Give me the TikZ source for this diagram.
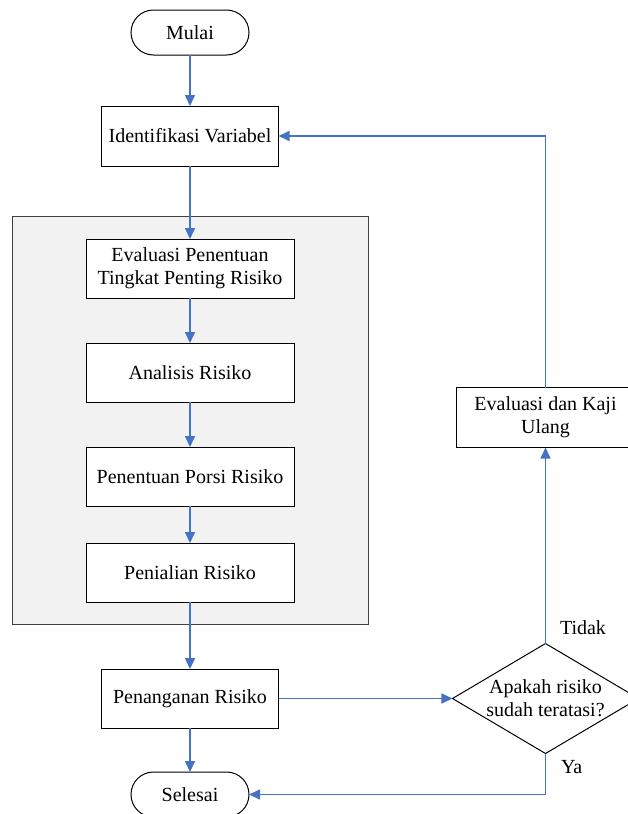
\documentclass[tikz,border=0pt]{standalone}
\usepackage{fontspec}
\setmainfont{Liberation Serif}
\usepackage{tikz}
\usetikzlibrary{positioning, arrows.meta, shapes.geometric, fit, backgrounds}
\definecolor{ink}{HTML}{000000}
\definecolor{flowblue}{HTML}{4472C4}
\definecolor{panel}{HTML}{F2F2F2}
\definecolor{panelline}{HTML}{404040}
\tikzset{
  box/.style={rectangle, draw=ink, line width=1pt, fill=white, text=ink,
    font=\fontsize{20}{23}\selectfont, align=center, inner sep=2pt, outer sep=0pt,
    minimum width=177pt, minimum height=60pt},
  boxw/.style={box, minimum width=208pt, minimum height=59pt},
  term/.style={box, rounded corners=22.5pt, minimum width=118pt, minimum height=45pt},
  decision/.style={diamond, draw=ink, line width=1pt, fill=white, text=ink,
    font=\fontsize{20}{23}\selectfont, align=center, inner sep=0pt, outer sep=0pt,
    aspect=1.7, minimum width=186pt, minimum height=110pt},
  flow/.style={-{Triangle[length=11pt, width=10pt]}, line width=1.6pt, color=flowblue},
  lbl/.style={font=\fontsize{20}{23}\selectfont, text=ink},
}

\begin{document}
\begin{tikzpicture}[x=1pt, y=-1pt, node distance=45pt]
  \useasboundingbox (0,0) rectangle (627,814);
  \node[term] (start) at (190,32.5) {Mulai};
  \node[box, below=51pt of start] (ident) {Identifikasi Variabel};
  \node[boxw, below=73pt of ident] (p1) {Evaluasi Penentuan\\Tingkat Penting Risiko};
  \node[boxw, below=of p1] (p2) {Analisis Risiko};
  \node[boxw, below=of p2] (p3) {Penentuan Porsi Risiko};
  \node[boxw, below=37pt of p3] (p4) {Penialian Risiko};
  \node[box, below=67pt of p4, minimum height=59pt] (treat) {Penanganan Risiko};
  \node[term, below=44pt of treat] (finish) {Selesai};
  \node[decision, right=174pt of treat] (check) {Apakah risiko\\sudah teratasi?};
  \node[box, above=196pt of check, minimum width=178pt] (review) {Evaluasi dan Kaji\\Ulang};
  \begin{scope}[on background layer]
    \node[fit=(p1)(p4), draw=panelline, line width=1pt, fill=panel,
      inner xsep=74pt, inner ysep=22.5pt] (stage) {};
  \end{scope}
  \draw[flow] (start)--(ident); \draw[flow] (ident)--(p1); \draw[flow] (p1)--(p2);
  \draw[flow] (p2)--(p3); \draw[flow] (p3)--(p4); \draw[flow] (p4)--(treat);
  \draw[flow] (treat)--(finish); \draw[flow] (treat)--(check);
  \draw[flow] (check.south) |- (finish.east);
  \draw[flow] (check.north) -- (review.south);
  \draw[flow] (review.north) |- (ident.east);
  \node[lbl, above right=5pt and 11pt of check.north] (no) {Tidak};
  \node[lbl, below right=3pt and 12pt of check.south] (yes) {Ya};
\end{tikzpicture}
\end{document}
